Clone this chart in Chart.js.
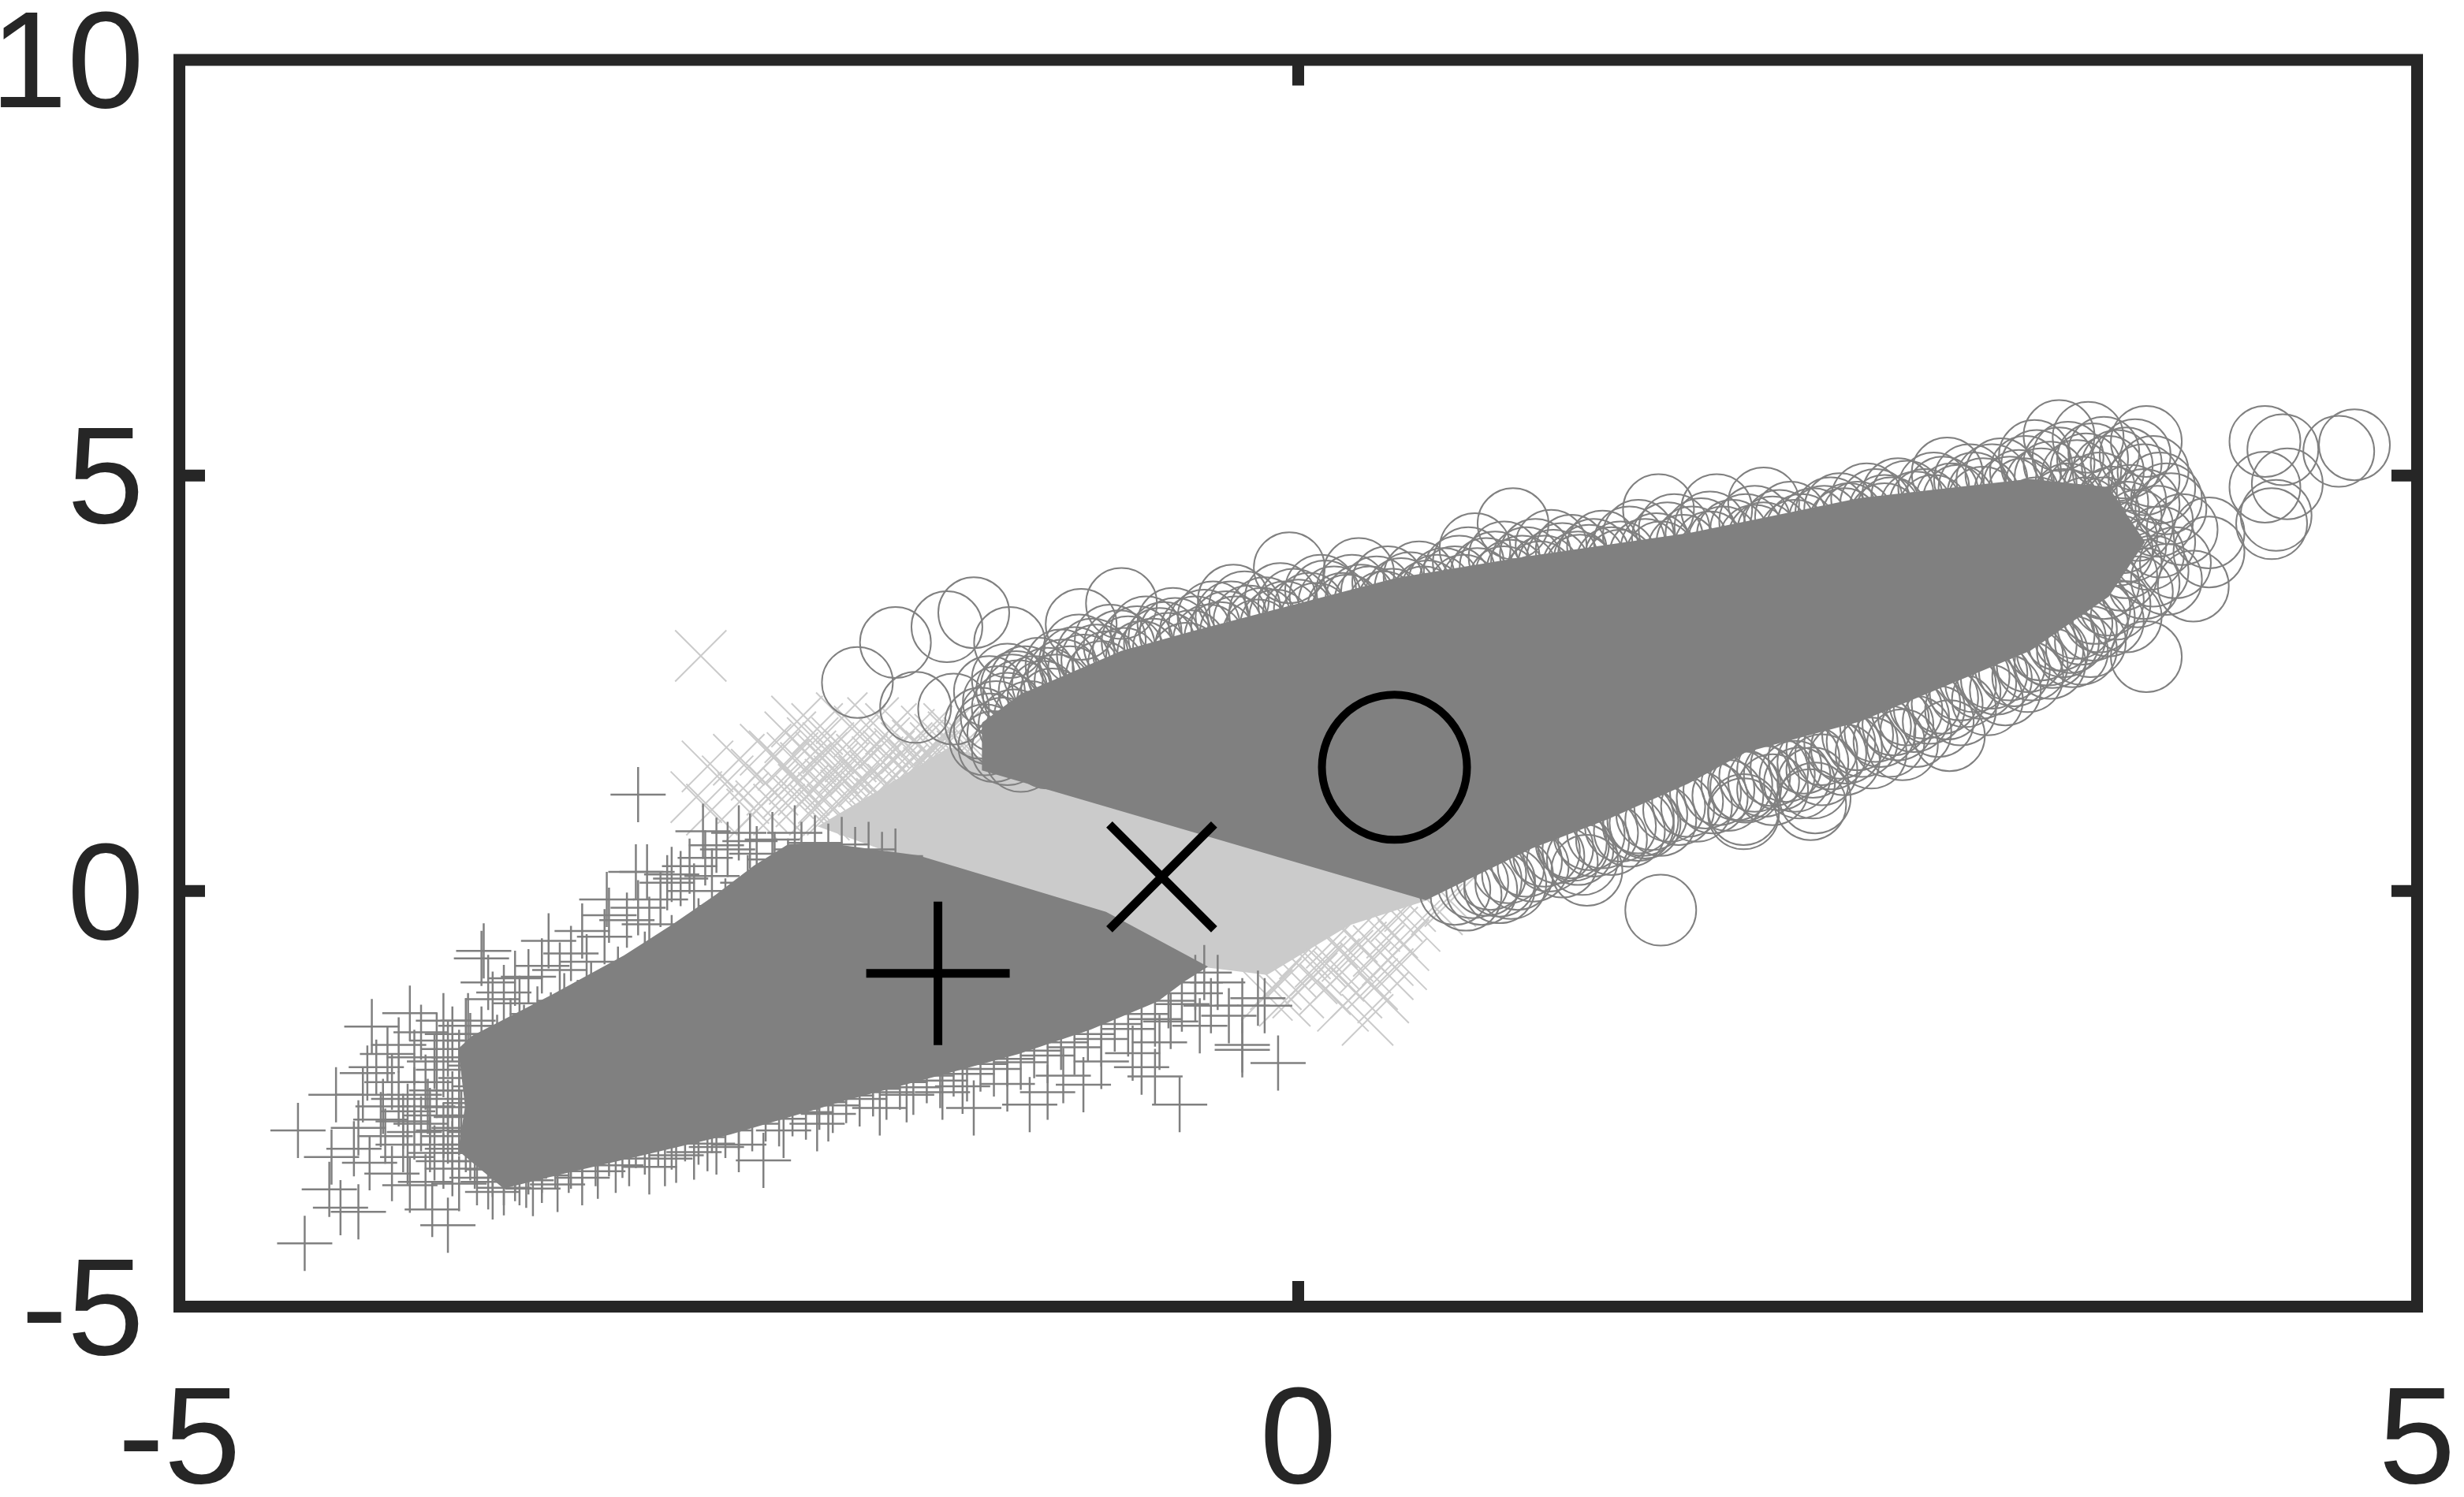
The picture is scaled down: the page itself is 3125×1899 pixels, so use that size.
<!DOCTYPE html>
<html>

<head>
    <title>Scatter of three classes</title>
    <script src="https://cdn.jsdelivr.net/npm/chart.js"></script>
    <style>
        html, body { margin: 0; padding: 0; background: #fff; }
        #wrap { width: 3125px; height: 1899px; }
    </style>
</head>

<body>
    <div id="wrap"><canvas id="scatterChart" width="3125" height="1899"></canvas></div>

    <script>
        const xTicks = [-5, 0, 5];
        const yTicks = [-5, 0, 5, 10];

        // class centres, the three big black markers
        const plusCentre = [[-1.61, -0.99]];
        const crossCentre = [[-0.61, 0.17]];
        const circleCentre = [[0.43, 1.49]];

        // solid parts of the clouds, outline
        const plusCore = [[-3.75,-1.90],[-3.69,-1.75],[-3.33,-1.25],[-3.01,-0.78],[-2.79,-0.40],[-2.60,-0.05],[-2.43,0.30],[-2.28,0.55],[-2.14,0.58],[-1.70,0.42],[-0.86,-0.26],[-0.41,-0.91],[-0.51,-1.08],[-0.63,-1.32],[-0.93,-1.66],[-1.25,-1.95],[-1.59,-2.20],[-2.01,-2.50],[-2.54,-2.92],[-2.88,-3.14],[-3.33,-3.42],[-3.55,-3.57],[-3.75,-3.12],[-3.72,-2.59],[-3.75,-1.90]];
        const crossCore = [[-1.56,1.72],[0.59,-0.09],[0.23,-0.40],[-0.14,-1.00],[-0.41,-0.91],[-2.14,0.78],[-1.87,1.21],[-1.56,1.72]];
        const circleCore = [[-1.41,2.02],[-1.24,2.36],[-0.79,2.88],[-0.47,3.12],[0.44,3.76],[1.03,4.02],[1.75,4.30],[2.51,4.72],[3.27,4.95],[3.62,4.85],[3.78,4.20],[3.62,3.55],[3.27,2.90],[2.51,2.05],[2.00,1.68],[1.74,1.30],[1.38,0.87],[1.05,0.53],[0.57,-0.10],[-1.41,1.46],[-1.41,2.02]];

        // single markers that can be told apart around the clouds
        const plusPoints = [
            [-2.95,1.16],[-4.44,-4.24],[-4.47,-2.88],[-4.30,-2.45],[-4.14,-1.63],[-3.97,-1.47],[-3.64,-0.72],[-3.65,-0.81],[-3.35,-0.60],[-2.39,-3.24],[-3.31,-3.53],[-3.80,-4.02],[-4.20,-3.86],[-4.28,-3.81],[-4.33,-3.59],[-3.87,-3.83],[-3.97,-3.54],[-4.15,-3.27],[-4.32,-3.20],
            [-2.91,0.23],[-2.96,0.23],[-2.66,0.72],[-2.76,0.15],[-3.09,-0.10],[-3.20,-0.48],[-3.08,-0.29],[-3.44,-1.03],[-3.55,-1.22],[-3.71,-1.56],[-3.82,-1.56],[-4.07,-1.96],[-4.16,-2.19],[-4.09,-2.59],[-4.00,-2.77],[-3.89,-2.59],[-3.82,-2.88],[-4.00,-3.05],[-3.78,-3.34],[-3.67,-3.45],[-3.55,-3.57],[-3.45,-3.48],[-3.13,-3.37],[-2.99,-3.22],[-2.83,-3.22],[-2.70,-3.14],
            [-0.09,-2.07],[-0.25,-1.85],[-0.53,-2.57],[-0.64,-2.23],[-1.20,-2.57],[-1.45,-2.61],[-0.25,-1.91],[-0.18,-1.29],[-0.39,-1.38],[-0.25,-1.38],[-0.46,-1.23],[-0.57,-1.57],[-0.74,-1.95],[-0.96,-2.33],[-1.59,-2.42],[-1.87,-2.61],[-2.15,-2.80],[-2.64,-3.04],[-2.78,-3.18],[-0.15,-1.38],[-0.36,-1.10],[-0.31,-1.50],[-0.44,-1.62],[-0.62,-1.82],[-0.70,-2.12],[-0.88,-2.05],[-1.05,-2.22],[-1.30,-2.32],[-1.12,-2.42],
            [-2.80,0.20],[-2.65,0.40],[-2.55,0.50],[-2.45,0.60],[-2.70,0.00],[-2.85,-0.10],[-2.95,-0.20],[-3.00,-0.35],[-3.10,-0.55],[-3.25,-0.75],[-2.50,0.70],[-2.60,0.55],[-2.72,0.30],[-2.35,0.62],[-2.25,0.70],[-2.42,0.45],[-2.62,0.18],[-2.82,0.10],[-2.90,-0.40],[-3.18,-0.85],[-3.30,-0.95],[-3.38,-0.90],[-3.50,-1.05],[-3.60,-1.30],[-3.48,-1.35],[-3.62,-1.10],
            [-3.92,-1.70],[-3.85,-1.80],[-3.78,-1.72],[-4.02,-1.85],[-3.95,-2.00],[-3.82,-2.15],[-4.12,-2.12],[-4.05,-2.30],[-3.90,-2.30],[-3.75,-2.40],[-4.18,-2.45],[-4.02,-2.50],[-3.80,-2.60],[-4.10,-2.75],[-3.92,-2.80],[-3.75,-2.85],[-4.20,-2.85],[-4.08,-2.95],[-3.88,-3.05],[-3.72,-3.05],[-4.22,-3.10],[-3.98,-3.20],[-3.82,-3.25],[-3.68,-3.25],[-4.05,-3.40],[-3.90,-3.50],[-3.75,-3.52],[-3.60,-3.35],[-3.50,-3.30],[-3.38,-3.42],[-3.25,-3.25],[-3.60,-3.62],[-3.42,-3.58],[-3.20,-3.45],[-3.05,-3.30],[-2.90,-3.32],[-2.60,-3.08],[-2.50,-3.05],[-2.30,-2.88],[-2.10,-2.68],[-1.75,-2.45],[-1.50,-2.35],
            [-3.50,-3.40],[-3.44,-3.32],[-3.38,-3.30],[-3.32,-3.25],[-3.26,-3.30],[-3.20,-3.20],[-3.14,-3.22],[-3.08,-3.10],[-3.02,-3.12],[-2.96,-3.00],[-2.92,-3.08],[-2.86,-2.98],[-2.80,-3.02],[-2.74,-2.92],[-2.68,-2.96],[-2.62,-2.82],[-2.56,-2.88],[-2.50,-2.78],[-2.44,-2.80],[-2.38,-2.68],[-2.32,-2.74],[-2.26,-2.62],[-2.20,-2.66],[-2.14,-2.54],[-2.08,-2.58],[-2.02,-2.46],[-1.96,-2.50],[-1.90,-2.38],[-1.84,-2.42],[-1.78,-2.30],[-1.72,-2.36],[-1.66,-2.22],[-1.60,-2.28],[-1.54,-2.14],[-1.48,-2.20],[-1.42,-2.08],[-1.36,-2.14],[-1.30,-2.02],[-1.24,-2.06],[-1.18,-1.92],[-1.12,-1.98],[-1.06,-1.82],[-1.00,-1.88],[-0.94,-1.72],[-0.88,-1.78],[-0.82,-1.60],[-0.76,-1.66],[-0.70,-1.48],[-0.64,-1.54],[-0.58,-1.32],[-0.52,-1.36],[-0.46,-1.10],[-0.42,-0.98],
            [-3.58,-1.82],[-3.52,-1.62],[-3.46,-1.70],[-3.40,-1.48],[-3.34,-1.55],[-3.28,-1.32],[-3.22,-1.40],[-3.16,-1.18],[-3.10,-1.26],[-3.04,-1.00],[-2.98,-1.08],[-2.92,-0.82],[-2.86,-0.90],[-2.80,-0.62],[-2.74,-0.70],[-2.68,-0.42],[-2.62,-0.50],[-2.56,-0.18],[-2.50,-0.26],[-2.46,0.10],[-2.40,0.02],[-2.34,0.38],[-2.28,0.30],[-2.22,0.50],[-2.16,0.58],[-2.10,0.48],[-2.04,0.56],[-1.98,0.44],[-1.92,0.50],[-1.86,0.38],[-1.80,0.42],
            [-3.70,-1.80],[-3.75,-2.00],[-3.68,-2.10],[-3.72,-2.25],[-3.66,-2.35],[-3.78,-2.50],[-3.70,-2.55],[-3.66,-2.70],[-3.74,-2.72],[-3.68,-2.90],[-3.80,-2.95],[-3.70,-3.15],[-3.62,-3.10],[-3.85,-2.40],[-3.88,-2.70],[-3.86,-2.05],[-3.80,-1.90],[-3.72,-1.62],[-3.65,-1.72],[-3.95,-2.45],[-3.98,-2.65],[-3.95,-2.90],[-3.86,-3.15],[-3.78,-3.10],[-3.62,-3.50],[-3.55,-3.45],[-3.48,-3.45]
        ];
        const crossPoints = [
            [-2.67,2.83],[-2.64,1.50],[-2.69,1.13],[-2.62,0.98],[-2.55,1.32],[-2.50,1.58],[-2.48,1.12],[-2.44,0.92],[-2.42,1.40],[-2.38,1.70],[-2.35,1.22],[-2.32,0.98],[-2.30,1.52],[-2.27,1.85],[-2.25,1.35],[-2.24,2.04],[-2.22,1.08],[-2.18,1.62],[-2.15,1.95],[-2.14,1.28],[-2.12,0.92],[-2.08,1.48],[-2.06,1.78],[-2.04,2.08],[-2.02,1.15],[-2.00,1.62],[-1.96,1.92],[-1.94,1.32],[-1.92,1.02],[-1.90,2.02],[-1.88,1.55],[-1.85,1.78],[-1.82,1.95],[-1.80,1.40],[-1.78,1.65],[-1.74,1.88],[-1.72,1.52],[-1.70,1.75],[-1.66,1.92],[-1.64,1.62],[-1.60,1.82],[-1.56,1.95],[-1.52,1.70],[-2.34,1.62],[-2.20,1.48],[-2.10,1.72],[-1.98,1.45],[-2.40,1.02],[-2.28,1.18],[-2.16,0.98],[-2.05,1.32],
            [-2.12,1.12],[-2.08,0.98],[-2.03,1.48],[-1.99,1.22],[-1.95,1.58],[-1.93,1.14],[-1.89,1.38],[-1.86,1.05],[-1.83,1.62],[-1.81,1.22],[-1.77,1.46],[-1.75,1.72],[-1.71,1.32],[-1.68,1.58],[-1.65,1.42],[-1.62,1.72],[-1.58,1.55],[-1.54,1.85],[-1.50,1.62],[-1.47,1.78],[-2.26,1.60],[-2.21,1.22],[-2.17,1.78],[-2.13,1.60],[-2.09,1.28],
            [0.31,-1.55],[0.33,-1.12],[0.40,-0.83],[0.47,-0.65],[0.52,-0.42],[0.42,-0.50],[0.36,-0.72],[0.30,-0.92],[0.26,-1.22],[0.22,-0.78],[0.18,-1.02],[0.15,-0.62],[0.12,-1.18],[0.10,-0.85],[0.06,-1.05],[0.03,-0.75],[0.00,-1.22],[-0.03,-0.98],[-0.06,-1.32],[-0.10,-1.12],[-0.14,-1.25],[0.24,-0.55],[0.34,-0.42],[0.44,-0.30],[0.50,-0.18],[0.62,-0.22],[0.68,-0.12],[0.38,-1.28],[0.20,-1.38],[0.08,-0.95],[0.16,-0.88],[0.28,-0.68],[0.40,-1.00],[0.46,-0.88]
        ];
        const circlePoints = [
            [-1.97,2.51],[-1.80,2.99],[-1.57,3.18],[-1.45,3.35],[-1.71,2.21],[-1.54,2.19],[-1.29,2.99],[-0.79,3.46],[-0.97,3.21],[-0.04,3.89],[0.27,3.82],[-0.29,3.50],[0.96,4.42],[0.79,4.12],[1.13,4.16],[1.61,4.59],[2.08,4.67],[1.87,4.59],[2.90,5.03],[3.40,5.48],[3.53,5.46],[3.79,5.41],[3.29,5.24],[4.32,5.41],[4.40,5.31],[4.72,5.37],[4.65,5.29],[4.42,4.90],[4.32,4.86],[4.37,4.52],[4.35,4.42],[4.07,4.31],[4.07,4.08],[4.00,3.67],[3.79,2.82],[3.50,2.91],[3.37,2.87],[2.91,1.87],[2.70,1.76],[2.31,1.12],[1.99,0.98],[2.30,1.30],[1.54,0.85],[1.62,-0.23],[1.29,0.25],[1.27,0.38],[1.23,0.55],[0.90,0.04],[0.84,0.13],[0.95,0.09],[1.52,0.79],[1.99,0.93],[2.29,1.04],[1.99,1.27],
            [-1.42,2.02],[-1.38,1.95],[-1.35,2.10],[-1.32,1.90],[-1.30,2.20],[-1.27,2.00],[-1.25,2.35],[-1.20,2.10],[-1.18,2.40],[-1.12,2.50],[-1.10,2.25],[-1.05,2.60],[-1.30,2.55],[-1.38,2.40],[-1.00,2.75],[-0.92,2.85],[-0.85,2.70],[-0.80,2.95],[-0.72,3.00],[-0.65,2.85],[-0.60,3.05],[-0.55,3.10],[-0.48,2.95],[-0.42,3.20],[-0.35,3.05],[-0.30,3.30],[-0.22,3.25],[-0.15,3.35],[-0.10,3.20],[-0.02,3.45],[0.05,3.40],[0.12,3.55],[0.20,3.40],[0.28,3.50],[0.35,3.60],[0.42,3.45],[0.50,3.65],[0.58,3.55],[0.65,3.70],[0.72,3.85],[0.80,3.70],[0.88,3.90],[0.95,3.80],[1.02,3.95],[1.10,3.85],[1.18,4.00],[1.25,3.90],[1.32,4.05],[1.40,3.95],[1.48,4.20],[1.55,4.05],[1.65,4.25],[1.72,4.10],[1.80,4.30],[1.90,4.20],[2.00,4.35],[2.08,4.25],[2.15,4.40],[2.25,4.35],[2.35,4.45],[2.42,4.60],[2.50,4.50],[2.58,4.65],[2.65,4.55],[2.72,4.75],[2.80,4.65],[2.88,4.80],[2.95,4.70],[3.02,4.85],[3.10,4.95],[3.18,4.80],[3.25,5.05],[3.32,4.90],[3.40,5.15],[3.48,5.00],[3.55,5.20],[3.62,5.05],[3.70,5.15],[3.78,4.95],[3.85,4.85],[3.72,4.70],[3.90,4.60],[3.95,4.35],[3.85,4.20],[3.75,4.40],[3.92,3.95],[3.82,3.85],[3.70,3.95],[3.75,3.60],[3.65,3.45],[3.55,3.20],[3.60,3.70],[3.45,3.05],[3.68,4.25],[3.60,4.55],[3.50,4.80],[3.42,4.65],
            [0.75,-0.05],[0.82,0.02],[0.90,0.12],[0.98,0.20],[1.05,0.30],[1.12,0.42],[1.18,0.35],[1.25,0.50],[1.32,0.60],[1.40,0.62],[1.48,0.72],[1.55,0.82],[1.62,0.85],[1.70,0.98],[1.78,1.02],[1.85,1.12],[1.92,1.15],[2.00,1.25],[2.08,1.32],[2.15,1.40],[2.22,1.38],[2.30,1.55],[2.38,1.65],[2.45,1.72],[2.52,1.80],[2.60,1.92],[2.68,2.00],[2.75,2.10],[2.82,2.20],[2.90,2.25],[2.98,2.40],[3.05,2.50],[3.12,2.55],[3.20,2.65],[3.28,2.72],[3.35,2.90],[3.42,3.00],[3.50,3.15],[3.58,3.30],[3.62,3.50],
            [-1.40,1.82],[-1.36,1.74],[-1.30,1.70],[-1.24,1.62],[-1.18,1.78],[-1.12,1.66],[-1.34,2.28],[-1.26,2.46],[-1.16,2.62],[-1.08,2.42],[-1.02,2.52],[-0.96,2.66],[-0.88,2.58],[-0.78,2.74],[-0.70,2.82],[-0.58,2.92],[-0.50,2.80],[-0.40,3.02],[-0.28,3.12],[-0.18,3.08],[-0.06,3.30],[0.08,3.28],[0.22,3.38],[0.38,3.42],[0.56,3.48],[0.74,3.62],[0.92,3.72],[1.08,3.78],[1.26,3.86],[1.44,3.92],[1.62,4.02],[1.84,4.14],[2.04,4.22],[2.22,4.28],[2.44,4.42],[2.62,4.48],[2.84,4.58],[3.06,4.68],[3.24,4.78],
            [3.30,4.55],[3.38,4.40],[3.44,4.72],[3.52,4.55],[3.58,4.85],[3.64,4.68],[3.70,4.50],[3.66,4.10],[3.72,4.15],[3.78,4.65],[3.80,4.05],[3.84,4.45],[3.88,3.75],[3.78,3.70],[3.68,3.80],[3.62,3.25],[3.70,3.30],[3.54,3.00],[3.46,2.88],[3.36,2.74],[3.26,2.58],[3.16,2.42],[3.08,2.30],[2.96,2.18],[2.86,2.04],[2.76,1.92],[2.64,1.80],[2.56,1.66],[2.44,1.58],[2.34,1.46],[2.24,1.30],[2.12,1.22],
            [-1.28,2.42],[-1.22,2.52],[-1.14,2.34],[-1.06,2.72],[-0.98,2.90],[-0.90,2.78],[-0.84,3.02],[-0.76,2.88],[-0.68,3.12],[-0.62,2.98],[-0.56,3.22],[-0.46,3.12],[-0.38,3.30],[-0.32,3.18],[-0.24,3.42],[-0.16,3.22],[-0.08,3.52],[0.00,3.32],[0.10,3.62],[0.16,3.48],[0.24,3.62],[0.32,3.48],[0.40,3.72],[0.46,3.58],[0.54,3.78],[0.62,3.62],[0.70,3.72],[0.76,3.95],[0.84,3.82],[0.92,4.02],[1.00,3.85],[1.06,4.05],[1.14,3.92],[1.22,4.10],[1.30,3.98],[1.36,4.15],[1.44,4.02],[1.52,4.28],[1.60,4.12],[1.68,4.35],[1.76,4.20],[1.84,4.38],[1.94,4.28],[2.04,4.45],[2.12,4.32],[2.20,4.50],[2.30,4.42],[2.38,4.55],[2.46,4.48],[2.54,4.72],[2.62,4.58],[2.68,4.78],[2.76,4.62],[2.84,4.85],[2.92,4.72],[3.00,4.95],[3.06,4.78],[3.14,5.02],[3.22,4.88],[3.30,5.12],[3.36,4.98],[3.44,5.22],[3.52,5.08],[3.60,5.28],[3.66,5.12],[3.74,5.25],[3.82,5.05],[3.88,4.72],
            [0.70,0.02],[0.78,0.10],[0.86,0.20],[0.94,0.28],[1.02,0.36],[1.10,0.48],[1.16,0.52],[1.22,0.58],[1.30,0.68],[1.36,0.70],[1.44,0.78],[1.52,0.88],[1.58,0.92],[1.66,1.02],[1.74,1.08],[1.82,1.18],[1.88,1.22],[1.96,1.28],[2.04,1.38],[2.12,1.45],[2.18,1.50],[2.26,1.60],[2.34,1.70],[2.42,1.78],[2.50,1.88],[2.58,1.98],[2.66,2.06],[2.72,2.18],[2.80,2.26],[2.88,2.32],[2.96,2.48],[3.02,2.58],[3.10,2.62],[3.18,2.72],[3.26,2.82],[3.32,2.96],[3.40,3.08],[3.48,3.22],[3.56,3.40]
        ];

        const grey = "#808080";
        const lightGrey = "#cbcbcb";
        const frameColor = "#262626";

        function toXY(list) {
            return list.map(p => ({ x: p[0], y: p[1] }));
        }

        function coreSet(list, color, order) {
            return {
                data: toXY(list),
                showLine: true,
                fill: "shape",
                tension: 0,
                borderColor: color,
                backgroundColor: color,
                borderWidth: 2,
                pointRadius: 0,
                order: order
            };
        }

        function markerSet(list, style, radius, color, width, order) {
            return {
                data: toXY(list),
                pointStyle: style,
                pointRadius: radius,
                pointBorderColor: color,
                pointBackgroundColor: "transparent",
                pointBorderWidth: width,
                order: order
            };
        }

        // frame and inward ticks, matlab box style
        const framePlugin = {
            id: "frame",
            beforeDraw(chart) {
                // tick digits sit a little below the tick marks in the original
                chart.scales.y.getLabelItems().forEach(it => { it.options.translation[1] += 12; });
            },
            afterDraw(chart) {
                const { ctx, chartArea: a, scales } = chart;
                const tickLen = 25;
                ctx.save();
                ctx.strokeStyle = frameColor;
                ctx.lineWidth = 15;
                ctx.lineJoin = "miter";
                ctx.strokeRect(a.left, a.top, a.right - a.left, a.bottom - a.top);
                ctx.beginPath();
                xTicks.slice(1, -1).forEach(v => {
                    const px = scales.x.getPixelForValue(v);
                    ctx.moveTo(px, a.top);
                    ctx.lineTo(px, a.top + 7.5 + tickLen);
                    ctx.moveTo(px, a.bottom);
                    ctx.lineTo(px, a.bottom - 7.5 - tickLen);
                });
                yTicks.slice(1, -1).forEach(v => {
                    const py = scales.y.getPixelForValue(v);
                    ctx.moveTo(a.left, py);
                    ctx.lineTo(a.left + 7.5 + tickLen, py);
                    ctx.moveTo(a.right, py);
                    ctx.lineTo(a.right - 7.5 - tickLen, py);
                });
                ctx.stroke();
                ctx.restore();
            }
        };

        const tickFont = { family: "'Liberation Sans'", size: 175 };

        function noPadding(s) {
            s.paddingTop = s.paddingBottom = s.paddingLeft = s.paddingRight = 0;
        }

        new Chart(document.getElementById("scatterChart").getContext("2d"), {
            type: "scatter",
            data: {
                datasets: [
                    markerSet(plusCentre, "cross", 91, "#000", 11, 0),
                    markerSet(crossCentre, "crossRot", 94, "#000", 11, 0),
                    markerSet(circleCentre, "circle", 92, "#000", 10, 0),
                    coreSet(circleCore, grey, 1),
                    markerSet(circlePoints, "circle", 45, grey, 2, 2),
                    coreSet(plusCore, grey, 3),
                    markerSet(plusPoints, "cross", 35, grey, 2.5, 4),
                    coreSet(crossCore, lightGrey, 5),
                    markerSet(crossPoints, "crossRot", 46, lightGrey, 2, 6)
                ]
            },
            options: {
                responsive: false,
                animation: false,
                layout: { autoPadding: false, padding: { top: 76, right: 59.5, left: 0, bottom: 0 } },
                plugins: { legend: { display: false }, tooltip: { enabled: false } },
                scales: {
                    x: {
                        type: "linear",
                        min: -5,
                        max: 5,
                        afterFit: s => { s.height = 241.5; noPadding(s); },
                        afterBuildTicks: s => { s.ticks = xTicks.map(v => ({ value: v })); },
                        grid: { display: false },
                        border: { display: false },
                        ticks: { color: frameColor, font: tickFont, padding: 62, maxRotation: 0, autoSkip: false }
                    },
                    y: {
                        min: -5,
                        max: 10,
                        afterFit: s => { s.width = 227.5; noPadding(s); },
                        afterBuildTicks: s => { s.ticks = yTicks.map(v => ({ value: v })); },
                        grid: { display: false },
                        border: { display: false },
                        ticks: { color: frameColor, font: tickFont, padding: 37, autoSkip: false }
                    }
                }
            },
            plugins: [framePlugin]
        });
    </script>
</body>

</html>
